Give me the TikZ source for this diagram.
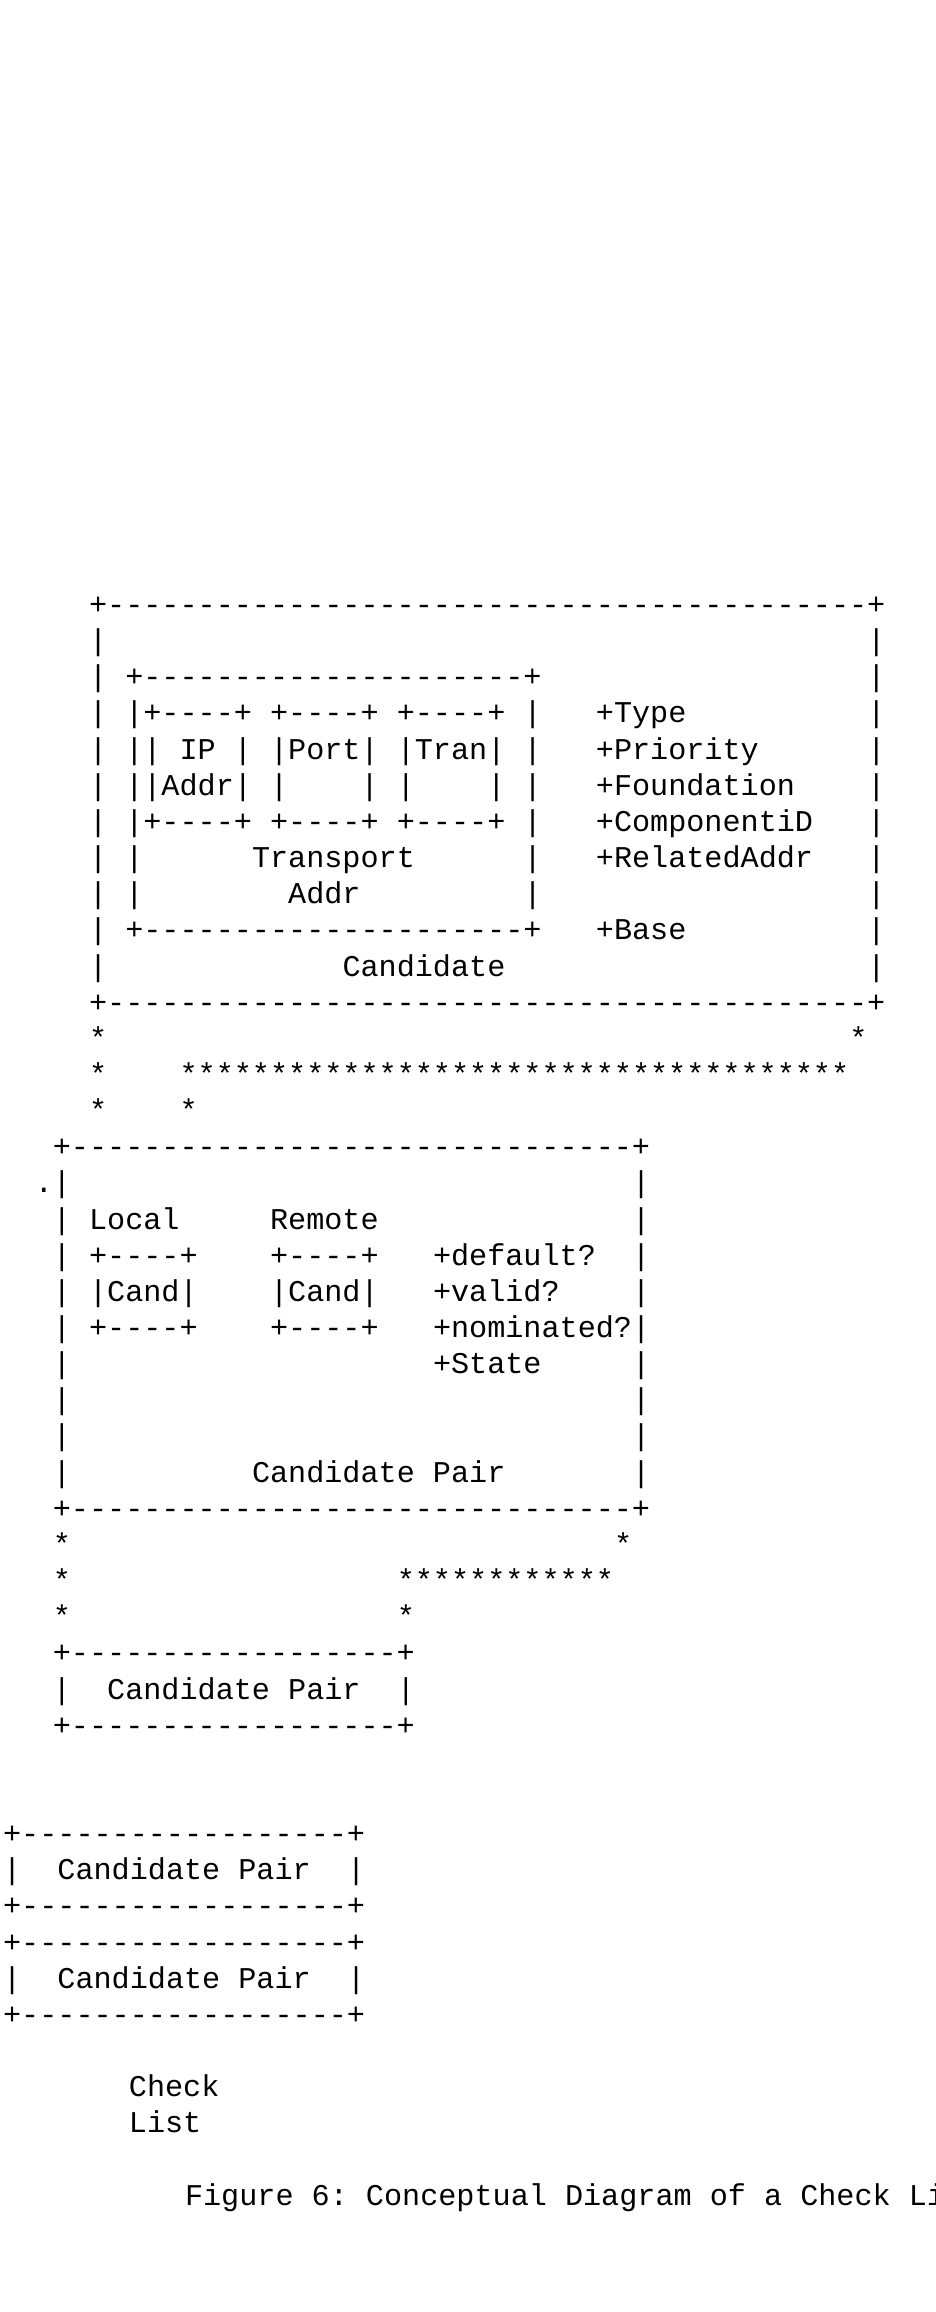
\documentclass[tikz,border=0pt]{standalone}
\usepackage{fontspec}
\setmonofont{Liberation Mono}
\newcommand{\asciirep}[2]{\foreach \i in {1,...,#1}{#2}}
\tikzset{
  ascii/.style={anchor=base west, inner sep=0pt, outer sep=0pt, text=black,
    font=\ttfamily\fontsize{30.16pt}{36pt}\selectfont},
}

\begin{document}
\begin{tikzpicture}[x=18.1pt, y=-36.15pt]
  \path[use as bounding box] (-52.9pt,614.5pt) rectangle (882.1pt,-1697.5pt);
  \clip (-52.9pt,614.5pt) rectangle (882.1pt,-1697.5pt);

  %% Candidate box
  \node[ascii] (candtop) at (2,0) {+\asciirep{42}{-}+};
  \foreach \r in {1,...,10} {
    \node[ascii] (candl\r) at (2,\r) {|};
    \node[ascii] (candr\r) at (45,\r) {|};
  }
  \node[ascii] (candbot) at (2,11) {+\asciirep{42}{-}+};
  \node[ascii] (candlab) at (16,10) {Candidate};

  %% Transport Addr box
  \node[ascii] (tatop) at (4,2) {+\asciirep{21}{-}+};
  \foreach \r in {3,...,8} {
    \node[ascii] (tal\r) at (4,\r) {|};
    \node[ascii] (tar\r) at (26,\r) {|};
  }
  \node[ascii] (tabot) at (4,9) {+\asciirep{21}{-}+};
  \node[ascii] (talab1) at (11,7) {Transport};
  \node[ascii] (talab2) at (13,8) {Addr};

  \foreach \c/\part in {5/ip,12/port,19/tran} {
    \node[ascii] (\part top) at (\c,3) {+----+};
    \node[ascii] (\part bot) at (\c,6) {+----+};
  }
  \node[ascii] (ipa) at (5,4) {| IP |};
  \node[ascii] (ipb) at (5,5) {|Addr|};
  \node[ascii] (porta) at (12,4) {|Port|};
  \node[ascii] (portbl) at (12,5) {|};
  \node[ascii] (portbr) at (17,5) {|};
  \node[ascii] (trana) at (19,4) {|Tran|};
  \node[ascii] (tranbl) at (19,5) {|};
  \node[ascii] (tranbr) at (24,5) {|};

  %% Candidate attributes
  \node[ascii] (atype) at (30,3) {+Type};
  \node[ascii] (aprio) at (30,4) {+Priority};
  \node[ascii] (afound) at (30,5) {+Foundation};
  \node[ascii] (acomp) at (30,6) {+ComponentiD};
  \node[ascii] (arel) at (30,7) {+RelatedAddr};
  \node[ascii] (abase) at (30,9) {+Base};

  %% stars to pair box
  \node[ascii] (s1a) at (2,12) {*};
  \node[ascii] (s1b) at (44,12) {*};
  \node[ascii] (s2a) at (2,13) {*};
  \node[ascii] (s2b) at (7,13) {\asciirep{37}{*}};
  \node[ascii] (s3a) at (2,14) {*};
  \node[ascii] (s3b) at (7,14) {*};

  %% Candidate Pair box
  \node[ascii] (pairtop) at (0,15) {+\asciirep{31}{-}+};
  \node[ascii] (dot) at (-1,16) {.};
  \foreach \r in {16,...,24} {
    \node[ascii] (pairl\r) at (0,\r) {|};
    \node[ascii] (pairr\r) at (32,\r) {|};
  }
  \node[ascii] (pairbot) at (0,25) {+\asciirep{31}{-}+};
  \node[ascii] (local) at (2,17) {Local};
  \node[ascii] (remote) at (12,17) {Remote};
  \foreach \c/\side in {2/loc,12/rem} {
    \node[ascii] (\side top) at (\c,18) {+----+};
    \node[ascii] (\side mid) at (\c,19) {|Cand|};
    \node[ascii] (\side bot) at (\c,20) {+----+};
  }
  \node[ascii] (pdef) at (21,18) {+default?};
  \node[ascii] (pval) at (21,19) {+valid?};
  \node[ascii] (pnom) at (21,20) {+nominated?};
  \node[ascii] (pstate) at (21,21) {+State};
  \node[ascii] (pairlab) at (11,24) {Candidate Pair};

  %% stars to list
  \node[ascii] (t1a) at (0,26) {*};
  \node[ascii] (t1b) at (31,26) {*};
  \node[ascii] (t2a) at (0,27) {*};
  \node[ascii] (t2b) at (19,27) {\asciirep{12}{*}};
  \node[ascii] (t3a) at (0,28) {*};
  \node[ascii] (t3b) at (19,28) {*};

  %% Check list entries
  \foreach \c/\r/\k in {0/29/1,-2.75/34/2,-2.75/37/3} {
    \node[ascii] (item\k top) at (\c,\r) {+\asciirep{18}{-}+};
    \node[ascii] (item\k l) at (\c,\r+1) {|};
    \node[ascii] (item\k lab) at (\c+3,\r+1) {Candidate Pair};
    \node[ascii] (item\k r) at (\c+19,\r+1) {|};
    \node[ascii] (item\k bot) at (\c,\r+2) {+\asciirep{18}{-}+};
  }

  \node[ascii] (check) at (4.2,41) {Check};
  \node[ascii] (list) at (4.2,42) {List};
  \node[ascii] (caption) at (7.3,44) {Figure 6: Conceptual Diagram of a Check List};
\end{tikzpicture}
\end{document}
